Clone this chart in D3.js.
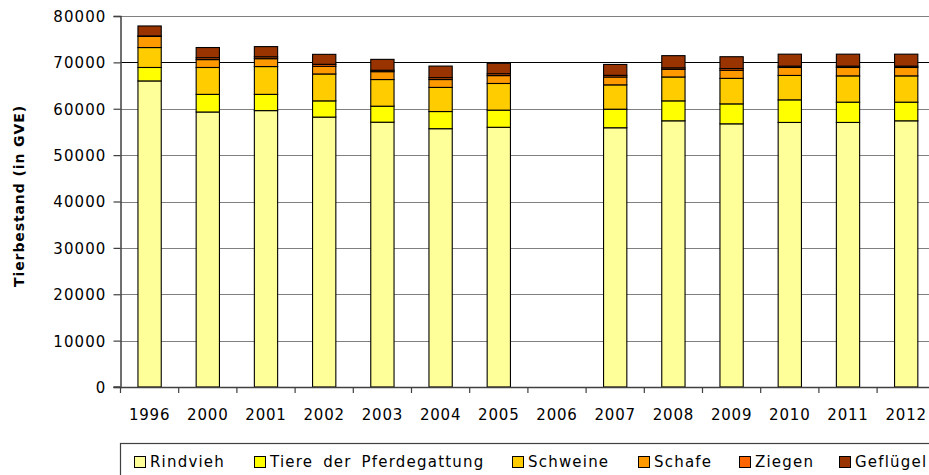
<!DOCTYPE html>
<html>
<head>
<meta charset="utf-8">
<script src="https://cdn.jsdelivr.net/npm/d3@7"></script>
<style>
  html, body { margin: 0; padding: 0; background: #fff; }
  svg { display: block; }
  text { font-family: "DejaVu Sans", Verdana, sans-serif; fill: #000; }
</style>
</head>
<body>
<svg id="chart" width="929" height="475"></svg>
<script>
// ---- data ----
const years = ["1996","2000","2001","2002","2003","2004","2005","2006","2007","2008","2009","2010","2011","2012"];
const rindvieh  = [66000,59300,59600,58200,57100,55700,56000,null,55900,57400,56750,57050,57050,57400];
const pferde    = [2900,3800,3500,3500,3450,3700,3700,null,4000,4300,4300,4870,4370,4020];
const schweine  = [4300,5800,6000,5800,5750,5200,5750,null,5250,5150,5500,5260,5670,5670];
const schafe    = [2400,1700,1700,1650,1700,1700,1700,null,1700,1650,1750,1720,1810,1810];
const ziegen    = [100,400,400,430,300,400,400,null,350,320,370,280,280,280];
const gefluegel = [2150,2200,2200,2150,2350,2500,2250,null,2350,2630,2550,2590,2590,2590];
const seriesNames = ["Rindvieh","Tiere der Pferdegattung","Schweine","Schafe","Ziegen","Geflügel"];
const yTicks = [0,10000,20000,30000,40000,50000,60000,70000,80000];
const yLabel = "Tierbestand (in GVE)";

// ---- styles / layout ----
const colors = ["#FFFF99","#FFFF00","#FFCC00","#FF9900","#FF6600","#993300"];
const seriesValues = [rindvieh, pferde, schweine, schafe, ziegen, gefluegel];
const left = 120.5, bandW = 58.2;
const legendX = [134, 254, 512, 638, 739, 839];

const svg = d3.select("#chart");

const table = years.map((yr, i) => {
  const row = { year: yr, missing: rindvieh[i] === null };
  seriesNames.forEach((s, k) => row[s] = seriesValues[k][i] || 0);
  return row;
});

const x = d3.scaleBand().domain(years).range([left, left + bandW * years.length]).padding(0);
const y = d3.scaleLinear().domain([0, 80000]).range([387, 16]);

// gridlines
svg.append("g").selectAll("line").data(yTicks.filter(t => t > 0)).join("line")
  .attr("x1", left).attr("x2", 929)
  .attr("y1", d => Math.round(y(d)) + 0.5).attr("y2", d => Math.round(y(d)) + 0.5)
  .attr("stroke", d => d === 70000 ? "#000" : "#808080")
  .attr("stroke-width", 1.2);

// stacked bars
const stack = d3.stack().keys(seriesNames)(table);
const barW = x.bandwidth() / 2.5;
svg.append("g").selectAll("g").data(stack).join("g")
  .attr("fill", (d, i) => colors[i])
  .selectAll("rect").data(d => d.filter(p => !p.data.missing)).join("rect")
  .attr("x", d => x(d.data.year) + (x.bandwidth() - barW) / 2)
  .attr("width", barW)
  .attr("y", d => y(d[1]))
  .attr("height", d => Math.max(0, y(d[0]) - y(d[1])))
  .attr("stroke", "#000")
  .attr("stroke-width", 1.1);

// y axis
const yAxis = d3.axisLeft(y).tickValues(yTicks).tickSize(7).tickPadding(7).tickFormat(d3.format("d"));
const gy = svg.append("g").attr("transform", `translate(${left},0)`).call(yAxis);
gy.select(".domain").attr("stroke", "#404040").attr("stroke-width", 1.5);
gy.selectAll(".tick line").attr("stroke", "#404040").attr("stroke-width", 1.2);
gy.selectAll(".tick text").attr("font-size", 15).attr("font-family", "DejaVu Sans, sans-serif")
  .attr("fill", "#000").attr("letter-spacing", 1.1).attr("dy", "0.36em");

// x axis
const xAxis = d3.axisBottom(x).tickSize(0).tickPadding(22);
const gx = svg.append("g").attr("transform", `translate(0,${y(0)})`).call(xAxis);
gx.select(".domain").attr("stroke", "#404040").attr("stroke-width", 1.5);
gx.selectAll(".tick text").attr("font-size", 15).attr("font-family", "DejaVu Sans, sans-serif")
  .attr("fill", "#000").attr("letter-spacing", 0.8);
gx.append("line").attr("x1", left - 7).attr("x2", left).attr("y1", 0).attr("y2", 0)
  .attr("stroke", "#404040").attr("stroke-width", 1.5);
gx.selectAll(".bound").data(years.concat(["_end"])).join("line").attr("class", "bound")
  .attr("x1", (d, i) => left + i * bandW).attr("x2", (d, i) => left + i * bandW)
  .attr("y1", 0).attr("y2", 6).attr("stroke", "#404040").attr("stroke-width", 1.2);

// y label
svg.append("text")
  .attr("transform", `translate(24,196) rotate(-90)`)
  .attr("text-anchor", "middle")
  .attr("font-size", 14).attr("font-weight", "bold").attr("letter-spacing", 0.9)
  .text(yLabel);

// legend
const lg = svg.append("g");
lg.append("rect").attr("x", 120.5).attr("y", 443.5).attr("width", 830).attr("height", 60)
  .attr("fill", "#fff").attr("stroke", "#404040").attr("stroke-width", 1.2);
const items = lg.selectAll("g.item").data(seriesNames).join("g").attr("class", "item")
  .attr("transform", (d, i) => `translate(${legendX[i]},456)`);
items.append("rect").attr("x", 0.5).attr("y", 0.5).attr("width", 11).attr("height", 11)
  .attr("fill", (d, i) => colors[i]).attr("stroke", "#000").attr("stroke-width", 1);
items.append("text").attr("x", 16).attr("y", 10.5)
  .attr("font-size", 15).attr("letter-spacing", 1.2).attr("word-spacing", 4).text(d => d);
</script>
</body>
</html>
